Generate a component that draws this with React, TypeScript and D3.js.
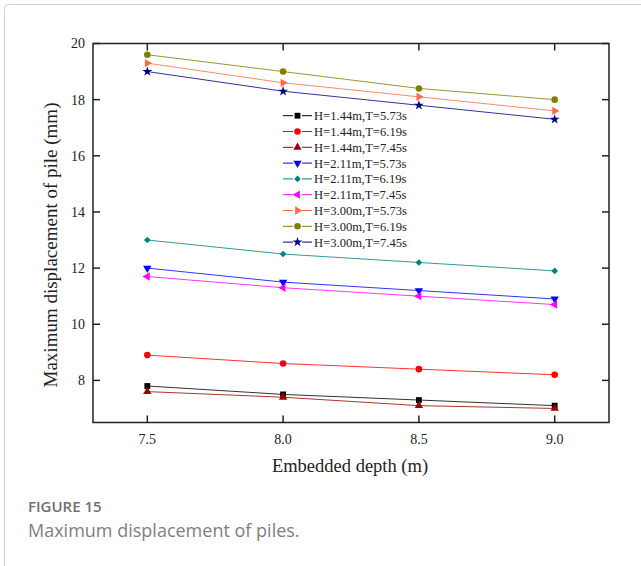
import React from "react";
import * as d3 from "d3";

const depths = [7.5, 8.0, 8.5, 9.0];
const seriesNames = [
  "H=1.44m,T=5.73s",
  "H=1.44m,T=6.19s",
  "H=1.44m,T=7.45s",
  "H=2.11m,T=5.73s",
  "H=2.11m,T=6.19s",
  "H=2.11m,T=7.45s",
  "H=3.00m,T=5.73s",
  "H=3.00m,T=6.19s",
  "H=3.00m,T=7.45s",
];
const s1 = [7.8, 7.5, 7.3, 7.1];
const s2 = [8.9, 8.6, 8.4, 8.2];
const s3 = [7.6, 7.4, 7.1, 7.0];
const s4 = [12.0, 11.5, 11.2, 10.9];
const s5 = [13.0, 12.5, 12.2, 11.9];
const s6 = [11.7, 11.3, 11.0, 10.7];
const s7 = [19.3, 18.6, 18.1, 17.6];
const s8 = [19.6, 19.0, 18.4, 18.0];
const s9 = [19.0, 18.3, 17.8, 17.3];
const seriesValues = [s1, s2, s3, s4, s5, s6, s7, s8, s9];
const colors = ["#000000", "#ff0000", "#9b0000", "#0000ff", "#008080", "#ff00ff", "#ff6a4d", "#808000", "#000080"];
const shapes = ["square", "circle", "up", "down", "diamond", "left", "right", "circle", "star"];
const xTicks = [7.5, 8.0, 8.5, 9.0];
const yTicks = [8, 10, 12, 14, 16, 18, 20];

const serif = "'Liberation Serif', 'Times New Roman', serif";
const sans = "'Open Sans', 'Noto Sans', sans-serif";

function Marker({ shape, x, y, color }: { shape: string; x: number; y: number; color: string }) {
  let type: any = d3.symbolSquare;
  let size = 34;
  let rot = 0;
  if (shape === "circle") { type = d3.symbolCircle; size = 34; }
  else if (shape === "up") { type = d3.symbolTriangle; size = 30; }
  else if (shape === "down") { type = d3.symbolTriangle; size = 30; rot = 180; }
  else if (shape === "left") { type = d3.symbolTriangle; size = 30; rot = -90; }
  else if (shape === "right") { type = d3.symbolTriangle; size = 30; rot = 90; }
  else if (shape === "diamond") { type = d3.symbolSquare; size = 22; rot = 45; }
  else if (shape === "star") { type = d3.symbolStar; size = 30; }
  const p = d3.symbol().type(type).size(size)() || "";
  return <path d={p} fill={color} stroke="none" transform={`translate(${x},${y}) rotate(${rot})`} />;
}

export default function App() {
  const W = 641, H = 566;
  const x = d3.scaleLinear().domain([7.3, 9.2]).range([93, 609]);
  const y = d3.scaleLinear().domain([6.5, 20]).range([422.5, 43.5]);
  const line = d3.line<number>().x((_, i) => x(depths[i])).y((v) => y(v));
  const [x0, x1] = x.range();
  const [y0, y1] = y.range();
  const tl = 7;
  const legX = 283, legY = 115.7, legDy = 15.8;

  return (
    <svg width={W} height={H} style={{ position: "absolute", left: 0, top: 0, background: "#fff" }}>
      <rect x={4.5} y={4.5} width={800} height={800} rx={4} fill="none" stroke="#cfcfcf" strokeWidth={1} />
      {/* series */}
      {seriesValues.map((vals, si) => (
        <g key={si}>
          <path d={line(vals) || ""} fill="none" stroke={colors[si]} strokeWidth={1} opacity={0.8} />
          {vals.map((v, i) => (
            <Marker key={i} shape={shapes[si]} x={x(depths[i])} y={y(v)} color={colors[si]} />
          ))}
        </g>
      ))}
      {/* frame */}
      <rect x={x0} y={y1} width={x1 - x0} height={y0 - y1} fill="none" stroke="#222" strokeWidth={1.5} />
      {xTicks.map((t) => (
        <g key={t}>
          <line x1={x(t)} x2={x(t)} y1={y0} y2={y0 - tl} stroke="#222" strokeWidth={1.5} />
          <line x1={x(t)} x2={x(t)} y1={y1} y2={y1 + tl} stroke="#222" strokeWidth={1.5} />
          <text x={x(t)} y={444.3} textAnchor="middle" fontFamily={serif} fontSize={14} fill="#222">
            {t.toFixed(1)}
          </text>
        </g>
      ))}
      {yTicks.map((t) => (
        <g key={t}>
          <line x1={x0} x2={x0 + tl} y1={y(t)} y2={y(t)} stroke="#222" strokeWidth={1.5} />
          <line x1={x1} x2={x1 - tl} y1={y(t)} y2={y(t)} stroke="#222" strokeWidth={1.5} />
          <text x={85} y={y(t)} dy="0.35em" textAnchor="end" fontFamily={serif} fontSize={14} fill="#222">
            {t}
          </text>
        </g>
      ))}
      {/* axis titles */}
      <text x={350} y={471.7} textAnchor="middle" fontFamily={serif} fontSize={18.5} fill="#222">
        Embedded depth (m)
      </text>
      <text transform={`translate(56.5,245) rotate(-90)`} textAnchor="middle" fontFamily={serif} fontSize={19} fill="#222">
        Maximum displacement of pile (mm)
      </text>
      {/* legend */}
      {seriesNames.map((n, i) => {
        const ly = legY + i * legDy;
        return (
          <g key={n}>
            <line x1={legX} x2={legX + 10} y1={ly} y2={ly} stroke={colors[i]} strokeWidth={1} />
            <line x1={legX + 19} x2={legX + 29} y1={ly} y2={ly} stroke={colors[i]} strokeWidth={1} />
            <Marker shape={shapes[i]} x={legX + 14.5} y={ly} color={colors[i]} />
            <text x={legX + 31} y={ly} dy="0.35em" fontFamily={serif} fontSize={12.6} fill="#222">
              {n}
            </text>
          </g>
        );
      })}
      {/* caption */}
      <text x={28} y={512.3} fontFamily={sans} fontSize={15} fontWeight={600} fill="#707070">
        FIGURE 15
      </text>
      <text x={28} y={537} fontFamily={sans} fontSize={18} fill="#808080">
        Maximum displacement of piles.
      </text>
    </svg>
  );
}
